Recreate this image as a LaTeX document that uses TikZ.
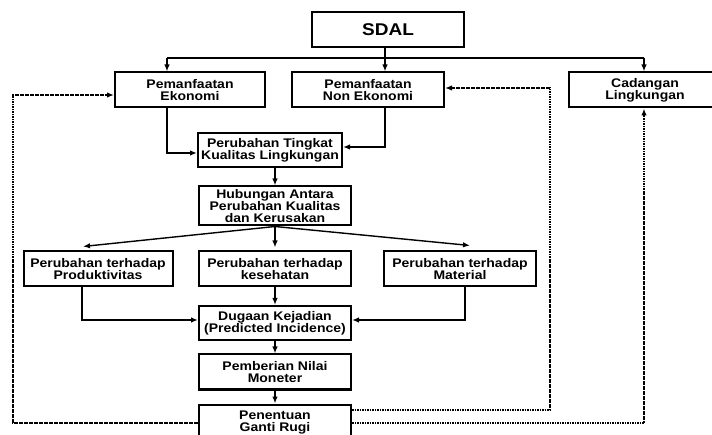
\documentclass[tikz,border=0pt]{standalone}
\usepackage{fontspec}
\setmainfont{Liberation Sans}[FakeStretch=1.12]
\usetikzlibrary{arrows.meta}
\begin{document}
\begin{tikzpicture}
        [x=1pt, y=-1pt, >={Latex[length=7pt,width=5.5pt]},
        box/.style={rectangle, draw, line width=2pt, minimum width=152pt, minimum height=35pt, inner sep=1pt, align=center, font=\bfseries\fontsize{12.5}{12}\selectfont},
        link/.style={line width=1.4pt},
        feedback/.style={line width=1.8pt, dash pattern=on 1.6pt off 0.9pt}]
        \useasboundingbox (0,0) rectangle (712,435);
        \clip (0,0) rectangle (712,435);

        \node[box, minimum width=152pt, font=\bfseries\fontsize{17}{17}\selectfont] (sdal) at (388,30) {SDAL};
        \node[box, minimum width=150pt] (ek) at (190,90) {Pemanfaatan\\Ekonomi};
        \node[box] (nonek) at (368,90) {Pemanfaatan\\Non Ekonomi};
        \node[box] (cad) at (645,90) {Cadangan\\Lingkungan};
        \node[box, minimum width=144pt, minimum height=34pt] (tingkat) at (270,150) {Perubahan Tingkat\\Kualitas Lingkungan};
        \node[box, minimum height=39pt] (hub) at (275,206) {Hubungan Antara\\Perubahan Kualitas\\dan Kerusakan};
        \node[box, minimum width=149pt] (prod) at (98,269) {Perubahan terhadap\\Produktivitas};
        \node[box] (kes) at (275,269) {Perubahan terhadap\\kesehatan};
        \node[box] (mat) at (460,269) {Perubahan terhadap\\Material};
        \node[box, minimum height=34pt] (dugaan) at (275,323) {Dugaan Kejadian\\(Predicted Incidence)};
        \node[box] (moneter) at (275,372) {Pemberian Nilai\\Moneter};
        \node[box, minimum height=37pt] (ganti) at (275,423) {Penentuan\\Ganti Rugi};

        % dari SDAL
        \coordinate (busL) at (167,58);
        \coordinate (busR) at (644,58);
        \draw[link] (busL) -- (busR);
        \draw[link, ->] (busL) -- (busL |- ek.north);
        \draw[link, ->] ([xshift=-3pt]sdal.south) -- ([xshift=-3pt]sdal.south |- nonek.north);
        \draw[link, ->] (busR) -- (busR |- cad.north);

        \draw[link, ->] (busL |- ek.south) |- ([yshift=-3pt]tingkat.west);
        \draw[link, ->] ([xshift=-3pt]sdal.south |- nonek.south) |- ([yshift=3pt]tingkat.east);
        \draw[link, ->] (tingkat.south -| hub.north) -- (hub.north);

        \draw[link, ->] (hub.south) -- ([xshift=-15pt, yshift=4pt]prod.north);
        \draw[link, ->] (hub.south) -- ([yshift=3pt]kes.north);
        \draw[link, ->] (hub.south) -- ([xshift=10pt, yshift=5pt]mat.north);

        \draw[link, ->] ([xshift=-16pt]prod.south) |- ([yshift=3pt]dugaan.west);
        \draw[link, ->] ([xshift=5pt]mat.south) |- ([yshift=3pt]dugaan.east);
        \draw[link, ->] (kes) -- (dugaan);
        \draw[link, ->] (dugaan) -- (moneter);
        \draw[link, ->] (moneter) -- (ganti);

        % umpan balik
        \coordinate (fbL) at (13,95);
        \coordinate (fbM) at (550,88);
        \draw[feedback, ->] (ganti.west) -| (fbL) -- (fbL -| ek.west);
        \draw[feedback, ->] ([yshift=13pt]ganti.east) -| (fbM) -- (fbM -| nonek.east);
        \draw[feedback, ->] (ganti.east) -| (busR |- cad.south);

    \end{tikzpicture}
\end{document}
